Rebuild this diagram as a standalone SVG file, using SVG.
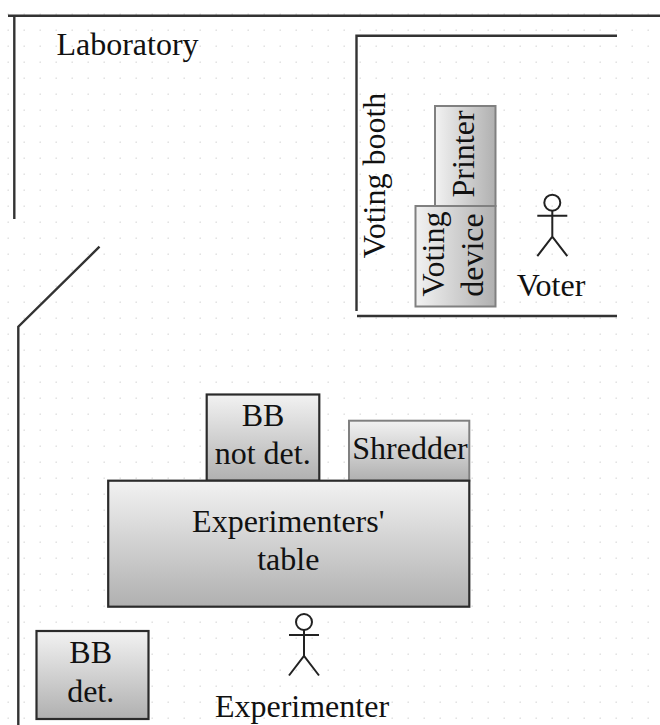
<svg xmlns="http://www.w3.org/2000/svg" width="660" height="725" viewBox="0 0 660 725">
<style>
text{font-family:"Liberation Serif","Times New Roman",serif;font-size:32px;fill:#111;text-anchor:middle}
.wall{fill:none;stroke:#333;stroke-width:2.4}
.box{stroke:#2b2b2b;stroke-width:2.2}
.soft{stroke:#808080;stroke-width:2}
.fig{fill:none;stroke:#222;stroke-width:2}
</style>
<defs>
<pattern id="dots" x="8" y="14" width="16" height="16" patternUnits="userSpaceOnUse"><rect x="-0.5" y="-0.5" width="1.4" height="1.4" fill="#dcdcdc"/><rect x="15.500" y="-0.5" width="1.4" height="1.4" fill="#dcdcdc"/><rect x="-0.5" y="15.500" width="1.4" height="1.4" fill="#dcdcdc"/><rect x="15.500" y="15.500" width="1.4" height="1.4" fill="#dcdcdc"/></pattern>
<linearGradient id="gv" x1="0" y1="0" x2="0" y2="1"><stop offset="0" stop-color="#f2f2f2"/><stop offset="1" stop-color="#b0b0b0"/></linearGradient>
<linearGradient id="gh" x1="0" y1="0" x2="1" y2="0"><stop offset="0" stop-color="#f2f2f2"/><stop offset="1" stop-color="#b0b0b0"/></linearGradient>
<g id="person" class="fig"><circle cx="0" cy="-34" r="8"/><path d="M-15-21H15M0-26V0M-15 19.500L0 0L15 19.500"/></g>
</defs>
<rect width="660" height="725" fill="#fff"/>
<rect width="660" height="725" fill="url(#dots)"/>
<g id="connectors">
<path class="wall" d="M8 15.700H660M14.300 15.700V219"/>
<path class="wall" d="M99.500 246.700L18.300 326.700V725"/>
<path class="wall" d="M617 35.700H356.500V311M357 316H617"/>
</g>
<g id="laboratory"><text x="127.500" y="55">Laboratory</text></g>
<g id="voting-booth"><text transform="translate(385 175.500) rotate(-90)">Voting booth</text></g>
<g id="printer"><rect class="soft" x="435" y="106" width="60.500" height="100" fill="url(#gh)"/><text transform="translate(474 154) rotate(-90)">Printer</text></g>
<g id="voting-device"><rect class="soft" x="415.500" y="206" width="80" height="100.500" fill="url(#gh)"/><text transform="translate(444 254) rotate(-90)">Voting</text><text transform="translate(482.500 255) rotate(-90)">device</text></g>
<g id="voter"><use href="#person" x="552.300" y="236.700"/><text x="551" y="296">Voter</text></g>
<g id="bb-not-det"><rect class="box" x="206.700" y="394.500" width="112.600" height="86.300" fill="url(#gv)"/><text x="263" y="425.700">BB</text><text x="262.700" y="464.300">not det.</text></g>
<g id="shredder"><rect class="soft" x="349" y="420.700" width="120.300" height="60" fill="url(#gv)"/><text x="410" y="459">Shredder</text></g>
<g id="table"><rect class="box" x="108.200" y="480.700" width="361.100" height="126" fill="url(#gv)"/><text x="288.300" y="532">Experimenters'</text><text x="288.300" y="570">table</text></g>
<g id="experimenter"><use href="#person" x="304" y="656"/><text x="302" y="716.500">Experimenter</text></g>
<g id="bb-det"><rect class="box" x="36.500" y="631" width="112" height="88" fill="url(#gv)"/><text x="90.700" y="663">BB</text><text x="90.700" y="701.500">det.</text></g>
</svg>
